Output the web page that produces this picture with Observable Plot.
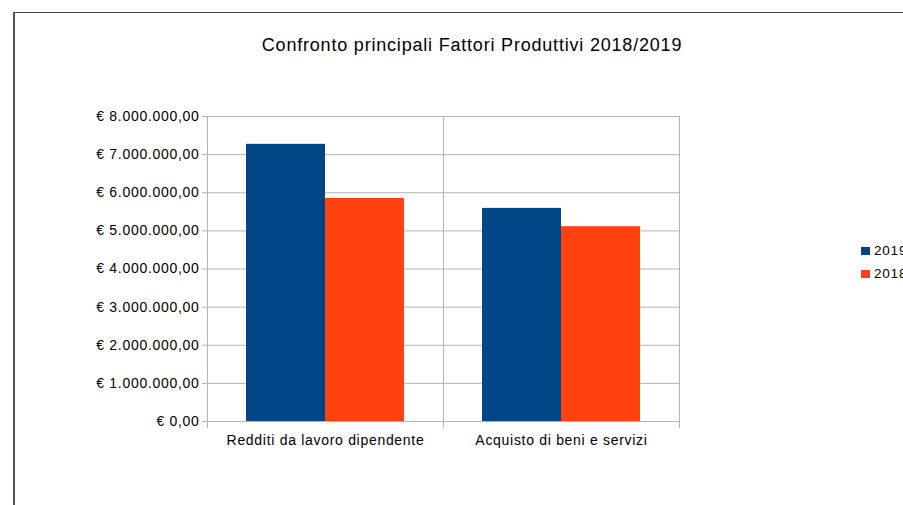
<!DOCTYPE html>
<html>
<head>
<meta charset="utf-8">
<script src="https://cdn.jsdelivr.net/npm/d3@7"></script>
<script src="https://cdn.jsdelivr.net/npm/@observablehq/plot@0.6"></script>
<style>
  html, body { margin: 0; padding: 0; background: #fff; overflow: hidden; }
  #wrap { position: relative; width: 903px; height: 505px; overflow: hidden; font-family: "Liberation Sans", Arial, sans-serif; }
  #border { position: absolute; left: 13px; top: 12px; width: 900px; height: 500px; border-left: 2px solid #555; border-top: 1px solid #444; box-sizing: border-box; }
  #title { position: absolute; left: 0; top: 36px; width: 944px; text-align: center; font-size: 18px; line-height: 18px; letter-spacing: 0.8px; color: #000; }
  #chart { position: absolute; left: 0; top: 0; }
  #chart svg text { letter-spacing: 0.7px; }
  .leg { position: absolute; left: 861px; font-size: 13.5px; line-height: 14px; letter-spacing: 0.8px; color: #000; white-space: nowrap; }
  .leg span { display: inline-block; width: 9px; height: 8px; margin-right: 4px; vertical-align: 0px; }
</style>
</head>
<body>
<div id="wrap">
  <div id="border"></div>
  <div id="title">Confronto principali Fattori Produttivi 2018/2019</div>
  <div id="chart"></div>
  <div id="legend"></div>
</div>
<script>
const categories = ["Redditi da lavoro dipendente", "Acquisto di beni e servizi"];
const years = ["2019", "2018"];
const values2019 = [7270000, 5590000];
const values2018 = [5850000, 5110000];
const yTicks = [0, 1000000, 2000000, 3000000, 4000000, 5000000, 6000000, 7000000, 8000000];
const colors = ["#004586", "#ff420e"];

const rows = [];
categories.forEach((c, i) => {
  rows.push({category: c, year: "2019", value: values2019[i]});
  rows.push({category: c, year: "2018", value: values2018[i]});
});

const locale = d3.formatLocale({decimal: ",", thousands: ".", grouping: [3], currency: ["€ ", ""]});
const fmt = locale.format("$,.2f");
const gridColor = "#b3b3b3";

const chart = Plot.plot({
  width: 903,
  height: 505,
  marginLeft: 207,
  marginRight: 224,
  marginTop: 116,
  marginBottom: 84,
  style: {fontFamily: "'Liberation Sans', Arial, sans-serif", background: "transparent", overflow: "visible"},
  fx: {domain: categories, padding: 0, round: false},
  x: {domain: years, paddingInner: 0, paddingOuter: 0.494, round: false, axis: null},
  y: {domain: [0, 8000000]},
  color: {domain: years, range: colors},
  marks: [
    Plot.gridY(yTicks, {stroke: gridColor, strokeOpacity: 1}),
    Plot.frame({anchor: "left", stroke: gridColor, insetBottom: -6}),
    Plot.frame({anchor: "right", stroke: gridColor, insetBottom: -6}),
    Plot.barY(rows, {fx: "category", x: "year", y: "value", fill: "year"}),
    Plot.axisY(yTicks, {tickFormat: fmt, tickSize: 5, tickPadding: 3, stroke: gridColor, fill: "#000", fontSize: 14, label: null}),
    Plot.axisFx({anchor: "bottom", tickSize: 0, tickPadding: 14, label: null, fontSize: 14, fill: "#000"})
  ]
});
document.getElementById("chart").appendChild(chart);

const legend = document.getElementById("legend");
years.forEach((y, i) => {
  const d = document.createElement("div");
  d.className = "leg";
  d.style.top = (244 + i * 23) + "px";
  d.innerHTML = `<span style="background:${colors[i]}"></span>${y}`;
  legend.appendChild(d);
});
</script>
</body>
</html>
